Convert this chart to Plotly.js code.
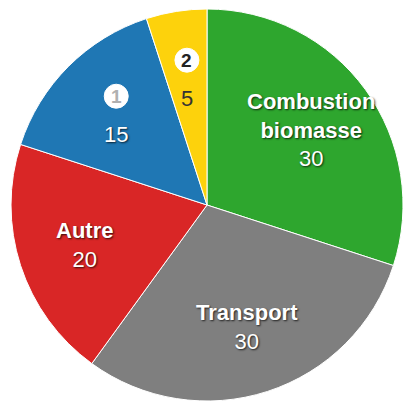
<!DOCTYPE html>
<html>
<head>
<meta charset="utf-8">
<script src="https://cdn.plot.ly/plotly-3.0.1.min.js"></script>
<style>html,body{margin:0;padding:0;background:#fff;}#chart{width:403px;height:403px;}</style>
</head>
<body>
<div id="chart"></div>
<script>
const labels = ["Combustion biomasse", "Transport", "Autre", "1", "2"];
const values = [30, 30, 20, 15, 5];
const colors = ["#2ea62e", "#7f7f7f", "#d92626", "#1f77b4", "#fdd20c"];
const iconSlices = [false, false, false, true, true];
const iconColors = ["", "", "", "#b0b0b0", "#222222"];

const FONT = "Liberation Sans, Arial, sans-serif";
const SHADOW = "1px 1px 2px rgba(0,0,0,0.75)";

const trace = {
  type: "pie",
  labels: labels,
  values: values,
  sort: false,
  direction: "clockwise",
  rotation: 0,
  marker: {colors: colors, line: {color: "#ffffff", width: 1}},
  textinfo: "none",
  hoverinfo: "none",
  domain: {x: [11/403, 1], y: [2/403, 394/403]}
};

const layout = {
  width: 403, height: 403,
  margin: {l: 0, r: 0, t: 0, b: 0},
  showlegend: false,
  paper_bgcolor: "#ffffff"
};

Plotly.newPlot("chart", [trace], layout, {staticPlot: true}).then(gd => {
  const cd0 = gd.calcdata[0][0];
  const W = gd._fullLayout.width, H = gd._fullLayout.height;
  const off = gd._fullLayout._size;
  const cx = cd0.cx + off.l, cy = cd0.cy + off.t, R = cd0.r;
  const total = values.reduce((a, b) => a + b, 0);
  const shapes = [], anns = [];
  let cum = 0;
  values.forEach((v, i) => {
    const th = (cum + v / 2) / total * 2 * Math.PI;
    cum += v;
    const rr = 0.655 * R;
    const x = cx + rr * Math.sin(th);
    const y = cy - rr * Math.cos(th);
    const toX = px => px / W, toY = py => 1 - py / H;
    if (!iconSlices[i]) {
      anns.push({xref: "paper", yref: "paper", x: toX(x), y: toY(y), xanchor: "center", yanchor: "middle", showarrow: false,
        text: "<b>" + labels[i].replace(" ", "<br>") + "</b><br>" + v,
        font: {family: FONT, size: 22, color: "#ffffff", shadow: SHADOW}});
    } else {
      const iy = y - 18, vy = y + 20, r = 12;
      shapes.push({type: "circle", xref: "paper", yref: "paper", x0: toX(x - r), x1: toX(x + r), y0: toY(iy + r), y1: toY(iy - r),
        fillcolor: "#ffffff", line: {color: "#ffffff", width: 1}});
      anns.push({xref: "paper", yref: "paper", x: toX(x), y: toY(iy), xanchor: "center", yanchor: "middle", showarrow: false,
        text: "<b>" + labels[i] + "</b>", font: {family: FONT, size: 19, color: iconColors[i]}});
      anns.push({xref: "paper", yref: "paper", x: toX(x), y: toY(vy), xanchor: "center", yanchor: "middle", showarrow: false,
        text: String(v), font: {family: FONT, size: 22, color: i === 4 ? "#333333" : "#ffffff", shadow: i === 4 ? "none" : SHADOW}});
    }
  });
  return Plotly.relayout(gd, {shapes: shapes, annotations: anns});
});
</script>
</body>
</html>
